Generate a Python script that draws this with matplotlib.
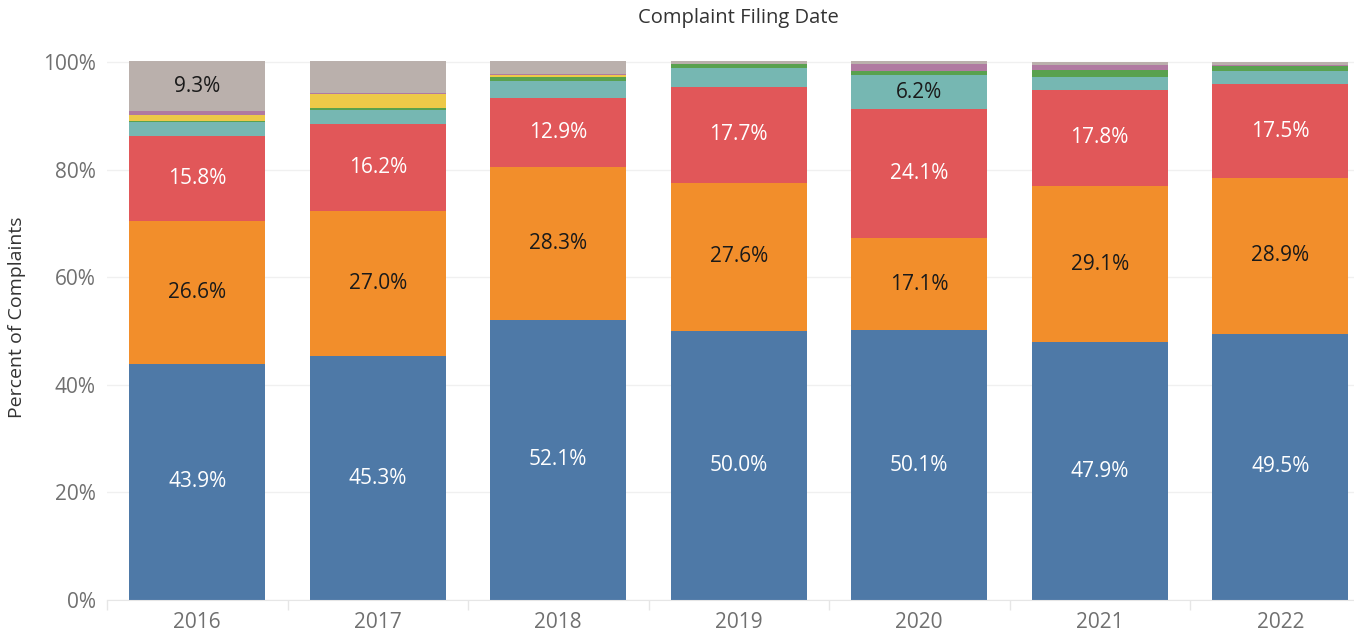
import matplotlib.pyplot as plt
import numpy as np

plt.rcParams['font.family'] = ['Open Sans', 'DejaVu Sans']

years = ['2016', '2017', '2018', '2019', '2020', '2021', '2022']

# segment shares (%), bottom to top
blue = [43.9, 45.3, 52.1, 50.0, 50.1, 47.9, 49.5]
orange = [26.6, 27.0, 28.3, 27.6, 17.1, 29.1, 28.9]
red = [15.8, 16.2, 12.9, 17.7, 24.1, 17.8, 17.5]
teal = [2.5, 2.6, 3.2, 3.5, 6.2, 2.4, 2.4]
green = [0.3, 0.3, 0.75, 0.9, 0.9, 1.3, 0.9]
yellow = [1.1, 2.7, 0.3, 0.0, 0.0, 0.0, 0.0]
purple = [0.6, 0.2, 0.25, 0.0, 1.3, 1.0, 0.25]
gray = [9.3, 5.8, 2.4, 0.4, 0.4, 0.5, 0.5]

series = [blue, orange, red, teal, green, yellow, purple, gray]
colors = ['#4e79a7', '#f28e2b', '#e15759', '#76b7b2', '#59a14f',
          '#edc948', '#b07aa1', '#bab0ac']
# which segments carry a label, and in what colour
label_color = {0: 'white', 1: '#1a1a1a', 2: 'white', 3: '#1a1a1a', 7: '#1a1a1a'}
labelled = {0: range(7), 1: range(7), 2: range(7), 3: [4], 7: [0]}

fig = plt.figure(figsize=(13.54, 6.35), dpi=100)
ax = fig.add_axes([107 / 1354, 35 / 635, 1247 / 1354, 565 / 635])

x = np.arange(len(years))
bottom = np.zeros(len(years))
for i, (vals, c) in enumerate(zip(series, colors)):
    vals = np.array(vals)
    ax.bar(x, vals, width=0.755, bottom=bottom, color=c, zorder=2)
    if i in labelled:
        for j in labelled[i]:
            ax.text(x[j], bottom[j] + vals[j] / 2, f'{vals[j]:.1f}%',
                    ha='center', va='center', fontsize=15,
                    color=label_color[i], zorder=3)
    bottom += vals

ax.set_yticks([0, 20, 40, 60, 80, 100])
ax.set_yticklabels(['0%', '20%', '40%', '60%', '80%', '100%'])
ax.set_xticks(x)
ax.set_xticklabels(years)
ax.set_xticks(np.arange(-0.5, 6.4, 1), minor=True)
ax.set_xlim(-0.5, -0.5 + 1247 / 180.5)
ax.set_ylim(0, 565 / 5.38)
ax.tick_params(axis='x', which='major', length=0, pad=9, labelsize=15, labelcolor='#707070')
ax.tick_params(axis='x', which='minor', length=7, color='#e6e6e6', width=1)
ax.tick_params(axis='y', length=0, pad=8, labelsize=15, labelcolor='#707070')
ax.grid(axis='y', color='#f0f0f0', linewidth=1, zorder=0)
for s in ['top', 'right', 'left']:
    ax.spines[s].set_visible(False)
ax.spines['bottom'].set_color('#e6e6e6')

ax.set_ylabel('Percent of Complaints', fontsize=14, color='#333333', labelpad=12)
fig.text(738 / 1354, 1 - 18 / 635, 'Complaint Filing Date', ha='center', va='center',
         fontsize=14.5, color='#333333')

fig.savefig('out.png')
